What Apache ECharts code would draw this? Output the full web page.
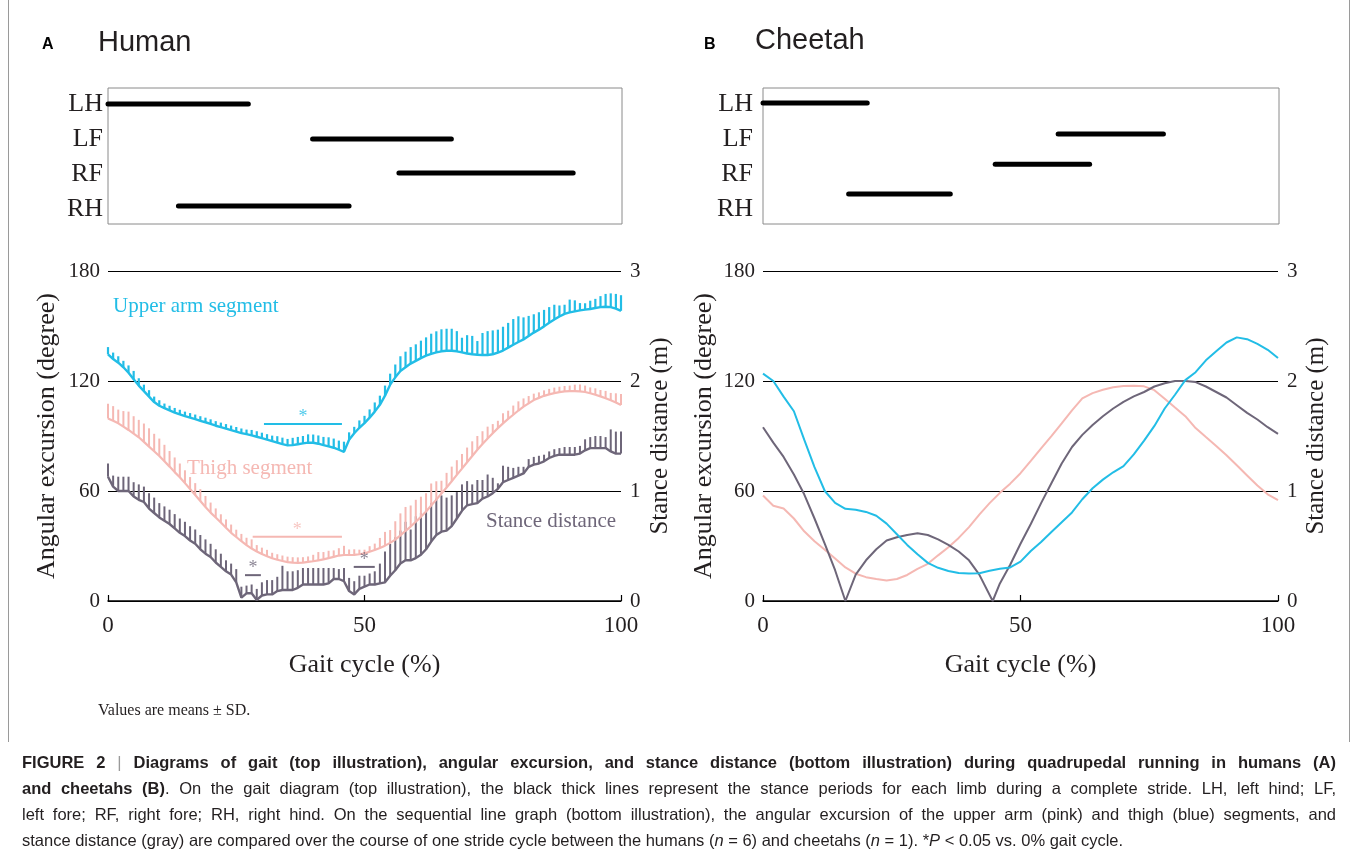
<!DOCTYPE html>
<html>
<head>
<meta charset="utf-8">
<script src="https://cdn.jsdelivr.net/npm/echarts@6/dist/echarts.min.js"></script>
<style>
  html, body { margin: 0; padding: 0; background: #fff; }
  #main { width: 1358px; height: 856px; }
</style>
</head>
<body>
<div id="main"></div>
<script>
// gait cycle sampling (%), human data every 1 %
var pct = [];
for (var i = 0; i <= 100; i++) pct.push(i);

var limbs = ['LH', 'LF', 'RF', 'RH'];

// stance periods (% of gait cycle)
var humanStart = [0, 39.8, 56.6, 13.7];
var humanEnd = [27.3, 66.8, 90.5, 46.9];
var humanRow = [0.47, 1.5, 2.5, 3.47];
var cheetahStart = [0, 57.2, 45, 16.6];
var cheetahEnd = [20.2, 77.6, 63.3, 36.3];
var cheetahRow = [0.44, 1.35, 2.24, 3.12];

// human: upper arm segment (degree), mean and SD
var humanArm = [
  134.5,132,130,127.5,124.5,121,117.5,114.5,111.5,108.5,
  106.5,105.2,104,102.8,101.8,100.8,100,99.2,98.3,97.5,
  96.6,95.6,94.8,94,93.2,92.4,91.6,91,90.3,89.6,
  88.8,88,87.2,86.4,85.6,84.9,85,85.5,86,86.4,
  86.3,85.8,85,84.3,83.6,82.5,81.4,88,91.5,94.5,
  97,100,103.3,107,112,118,122,125.5,127.5,129.5,
  131,132.5,133.8,134.8,135.6,136.2,136.5,136.5,136.2,135.6,
  135,134.6,134.3,134.2,134.2,134.6,135.5,136.6,138.2,139.8,
  141.3,142.7,144.5,146.4,148,149.8,151.8,153.6,155.2,156.6,
  157.4,158,158.5,158.9,159.3,159.8,160.3,160.5,160.3,159.5,158.3
];
var humanArmSD = [
  4,3.5,3.5,3.5,4,4.5,4,3.5,3.5,3,
  3,2.5,2.5,2.5,2.5,2.5,2.5,2.5,2.5,2.5,
  2.5,2.5,2.5,2.5,2.5,2.5,2.5,2.5,3,3,
  3,3,3,3.5,3.5,3.5,4,4,4,4.5,
  4.5,4.5,4.5,5,5,5,5.5,4,3.5,4,
  4,4.5,5,5,5.5,6,7,8,8.5,9,
  9,9.5,10,11,11.5,12,12,12,11,8,
  10,10,7.5,12,13,13,12.5,13,13.5,14,
  14,12,11,10,9.5,9,8.5,8,6,5,
  7,6,4,3.5,4.5,5,6,7,7.5,8,8.5
];

// human: thigh segment (degree)
var humanThigh = [
  99.6,98.3,96.9,95.1,93.3,91.3,89.3,86.8,84.2,81.7,
  79.1,76.2,73.3,70.3,67.5,64.3,61.1,57.8,54.5,51.3,
  48.2,45.5,42.8,40,37.2,34.9,32.6,30.5,28.6,27,
  25.6,24.4,23.3,22.5,21.8,21.2,20.9,20.8,20.9,21.3,
  21.7,22.2,22.7,23.4,24.1,24.8,25.1,25.1,25.2,25.5,
  26,26.9,27.8,28.9,30.2,31.7,33.5,35.8,38.3,40.6,
  43.2,45.9,48.8,52.1,55.3,58.6,61.9,65.3,68.8,72.2,
  75.7,79.1,82.5,85.6,88.6,91.5,94.3,96.9,99.3,101.6,
  103.9,106,107.8,109.6,110.8,111.9,112.7,113.4,113.9,114.3,
  114.5,114.5,114.3,114,113.3,112.5,111.6,110.6,109.5,108.3,106.9
];
var humanThighSD = [
  8,8,7.5,8.5,10,9.5,9.5,10,10,9.5,
  9.5,9,8.5,8,7.5,7,6.5,6.5,6.5,6,
  5.5,5,4.5,4.5,4.5,4,4,4,5,3.5,
  3.5,3.5,3,3,3,3,3,3,3,3,
  3.5,4.5,4,4,3.5,4,5,3,3,2.5,
  2,3,3.5,5.5,7.5,7,10,12,13,11.5,
  12,11,10,12,10,7,8,8,8,8,
  8,8,7.5,7,6.5,5,4,5.5,4.5,5,
  5,4.5,4,3.5,3,3,3,3,3,3,
  3,3.5,3.8,3.5,3.2,3.5,3.5,4,4,5,6
];

// human: stance distance (m)
var humanStance = [
  1.13,1.04,1,1,1,0.95,0.92,0.9,0.84,0.8,
  0.76,0.73,0.7,0.66,0.62,0.59,0.55,0.52,0.47,0.43,
  0.4,0.35,0.31,0.27,0.24,0.17,0.03,0.07,0.07,0.01,
  0.05,0.06,0.06,0.09,0.1,0.1,0.1,0.12,0.15,0.15,
  0.15,0.15,0.15,0.16,0.2,0.2,0.18,0.09,0.06,0.11,
  0.13,0.15,0.15,0.16,0.17,0.23,0.28,0.34,0.37,0.37,
  0.39,0.42,0.47,0.54,0.6,0.63,0.64,0.68,0.75,0.82,
  0.87,0.88,0.89,0.93,0.95,0.98,1.02,1.08,1.1,1.12,
  1.14,1.16,1.22,1.24,1.25,1.27,1.3,1.32,1.33,1.33,
  1.33,1.33,1.34,1.37,1.39,1.39,1.39,1.39,1.36,1.34,1.34
];
var humanStanceSD = [
  0.12,0.1,0.13,0.13,0.13,0.13,0.14,0.14,0.14,0.14,
  0.13,0.13,0.13,0.13,0.13,0.13,0.13,0.13,0.13,0.13,
  0.12,0.12,0.12,0.1,0.1,0.12,0.1,0.07,0.08,0.1,
  0.12,0.13,0.13,0.13,0.22,0.17,0.17,0.16,0.15,0.15,
  0.15,0.15,0.15,0.14,0.1,0.09,0.12,0.12,0.12,0.12,
  0.1,0.1,0.12,0.18,0.28,0.29,0.3,0.3,0.35,0.28,
  0.38,0.38,0.35,0.35,0.33,0.33,0.3,0.28,0.24,0.24,
  0.22,0.18,0.21,0.17,0.2,0.14,0.05,0.15,0.12,0.09,
  0.08,0.06,0.07,0.07,0.07,0.06,0.06,0.06,0.06,0.07,
  0.07,0.07,0.07,0.1,0.1,0.11,0.11,0.1,0.2,0.2,0.2
];

// significance bars: [from %, to %, level]
var sigArm = [30.4, 45.6, 96.5];
var sigThigh = [28.2, 45.6, 35];
var sigStance1 = [26.7, 29.8, 0.235];
var sigStance2 = [47.9, 52, 0.31];

// cheetah (n = 1), every 2 %
var cheetahPct = [];
for (var j = 0; j <= 100; j += 2) cheetahPct.push(j);
var cheetahArm = [
  124,120,111.5,103.5,88,73,60,53.5,50.3,49.8,
  48.6,46.5,42.2,36.4,30.6,25.5,20.8,18.1,16.4,15.3,
  15,15.1,16.5,17.6,18.3,21.5,27.3,32.2,37.6,43,
  48.3,55.5,61.5,66.2,70.2,73.6,80,87.5,95.5,105,
  112.5,120.5,124.8,131.3,136.2,141,143.8,142.8,140.2,137,132.5
];
var cheetahThigh = [
  57.5,52,50.5,45,38,32.6,28,23.2,18.3,14.9,
  13,12,11.2,12,14.2,17.5,20.3,24.9,29.3,34.4,
  40.3,47.1,53.4,59,64,69.7,76.4,83.2,89.9,96.9,
  104,110.5,113.4,115.2,116.6,117.3,117.4,117.1,115,110.3,
  105.5,100.8,94.3,89.4,84.6,79.5,74,68.5,63,58.2,55
];
var cheetahStancePct = [
  0,2,4,6,8,10,12,14,16,18,20,22,24,26,28,30,32,34,36,38,40,42,44.6,
  46,48,50,52,54,56,58,60,62,64,66,68,70,72,74,76,78,80,82,84,86,88,90,92,94,96,98,100
];
var cheetahStance = [
  1.58,1.44,1.31,1.15,0.97,0.75,0.52,0.28,0,0.24,0.37,0.47,0.55,0.58,0.6,0.615,0.6,0.56,0.51,0.45,0.37,0.24,0,
  0.16,0.33,0.52,0.7,0.89,1.07,1.25,1.4,1.51,1.6,1.68,1.75,1.81,1.86,1.9,1.95,1.98,2.0,2.0,1.99,1.95,1.9,1.85,1.78,1.71,1.65,1.58,1.52
];

// caption lines, as [style, text] pieces; the first three are justified
var captionLines = [
  [['b', 'FIGURE 2 '], ['bar', '| '], ['b', 'Diagrams of gait (top illustration), angular excursion, and stance distance (bottom illustration) during quadrupedal running in humans (A)']],
  [['b', 'and cheetahs (B)'], ['r', '. On the gait diagram (top illustration), the black thick lines represent the stance periods for each limb during a complete stride. LH, left hind; LF,']],
  [['r', 'left fore; RF, right fore; RH, right hind. On the sequential line graph (bottom illustration), the angular excursion of the upper arm (pink) and thigh (blue) segments, and']],
  [['r', 'stance distance (gray) are compared over the course of one stride cycle between the humans ('], ['i', 'n'], ['r', ' = 6) and cheetahs ('], ['i', 'n'], ['r', ' = 1). *'], ['i', 'P'], ['r', ' < 0.05 vs. 0% gait cycle.']]
];

var cyan = '#22bde6';
var pink = '#f5b8b3';
var gray = '#6e6679';
var ink = '#231f20';
var serif = "'Liberation Serif', 'Times New Roman', serif";
var sans = "'Liberation Sans', Arial, sans-serif";

var chart = echarts.init(document.getElementById('main'));

function pairs(xs, ys) {
  return xs.map(function (x, k) { return [x, ys[k]]; });
}

function meanLine(xs, ys, xi, yi, color, w) {
  return {
    type: 'line', xAxisIndex: xi, yAxisIndex: yi,
    data: pairs(xs, ys), symbol: 'none',
    lineStyle: { color: color, width: w }, z: 3
  };
}

// one-sided SD bars drawn upward from the mean
function sdBars(means, sds, xi, yi, color, w) {
  return {
    type: 'custom', xAxisIndex: xi, yAxisIndex: yi,
    data: pct.map(function (p, k) { return [p, means[k], means[k] + sds[k]]; }),
    encode: { x: 0, y: [1, 2] },
    renderItem: function (params, api) {
      var a = api.coord([api.value(0), api.value(1)]);
      var b = api.coord([api.value(0), api.value(2)]);
      return {
        type: 'line',
        shape: { x1: a[0], y1: a[1], x2: b[0], y2: b[1] },
        style: { stroke: color, lineWidth: w }
      };
    },
    z: 2
  };
}

function sigBar(s, xi, yi, color) {
  return [{
    type: 'line', xAxisIndex: xi, yAxisIndex: yi,
    data: [[s[0], s[2]], [s[1], s[2]]], symbol: 'none',
    lineStyle: { color: color, width: 2 }, z: 4
  }, {
    type: 'scatter', xAxisIndex: xi, yAxisIndex: yi,
    data: [[(s[0] + s[1]) / 2, s[2]]], symbolSize: 0,
    label: { show: true, formatter: '*', position: 'top', distance: -2,
      color: color, fontSize: 18, fontFamily: serif },
    z: 4
  }];
}

function gaitBars(starts, ends, rows, xi, yi) {
  return limbs.map(function (l, k) {
    return {
      type: 'line', xAxisIndex: xi, yAxisIndex: yi,
      data: [[starts[k], rows[k]], [ends[k], rows[k]]], symbol: 'none',
      lineStyle: { color: '#000', width: 5, cap: 'round' }
    };
  });
}

function hiddenX(gi) {
  return { gridIndex: gi, type: 'value', min: 0, max: 100, show: false };
}
function gaitYCat(gi, margin) {
  return {
    gridIndex: gi, type: 'category', data: limbs, inverse: true,
    axisLine: { show: false }, axisTick: { show: false },
    axisLabel: { margin: margin, fontFamily: serif, fontSize: 26, color: ink }
  };
}
function gaitYVal(gi) {
  return { gridIndex: gi, type: 'value', min: 0, max: 4, inverse: true, show: false };
}

function mainX(gi) {
  return {
    gridIndex: gi, type: 'value', min: 0, max: 100, interval: 50,
    axisLine: { lineStyle: { color: '#000', width: 1.5 } },
    axisTick: { inside: true, length: 6, lineStyle: { color: '#000', width: 1.2 } },
    axisLabel: { margin: 13, fontFamily: serif, fontSize: 23, color: ink },
    splitLine: { show: false },
    name: 'Gait cycle (%)', nameLocation: 'middle', nameGap: 51,
    nameTextStyle: { fontFamily: serif, fontSize: 26, color: ink }
  };
}
function mainYLeft(gi, gap) {
  return {
    gridIndex: gi, type: 'value', min: 0, max: 180, interval: 60,
    axisLine: { show: false }, axisTick: { show: false },
    splitLine: { lineStyle: { color: '#000', width: 1.2 } },
    axisLabel: { margin: 8, fontFamily: serif, fontSize: 21, color: ink },
    name: 'Angular excursion (degree)', nameLocation: 'middle', nameRotate: 90, nameGap: gap,
    nameTextStyle: { fontFamily: serif, fontSize: 26, color: ink }
  };
}
function mainYRight(gi, gap) {
  return {
    gridIndex: gi, type: 'value', position: 'right', min: 0, max: 3, interval: 1,
    axisLine: { show: false }, axisTick: { show: false }, splitLine: { show: false },
    axisLabel: { margin: 9, fontFamily: serif, fontSize: 21, color: ink },
    name: 'Stance distance (m)', nameLocation: 'middle', nameRotate: 90, nameGap: gap,
    nameTextStyle: { fontFamily: serif, fontSize: 25, color: ink }
  };
}

// justified caption: each word is its own text element
var capFont = {
  b: 'bold 16.5px ' + sans,
  r: '16.5px ' + sans,
  bar: '16.5px ' + sans,
  i: 'italic 16.5px ' + sans
};
var capLeft = 22, capWidth = 1314, capTop = 763, capStep = 26;
var measureCtx = document.createElement('canvas').getContext('2d');
function textWidth(font, s) {
  measureCtx.font = font;
  return measureCtx.measureText(s).width;
}
function captionGraphics() {
  var out = [];
  captionLines.forEach(function (line, li) {
    var words = [[]];
    line.forEach(function (seg) {
      var parts = seg[1].split(' ');
      parts.forEach(function (p, pi) {
        if (pi > 0) words.push([]);
        if (p) words[words.length - 1].push([seg[0], p]);
      });
    });
    words = words.filter(function (w) { return w.length; });
    var widths = words.map(function (w) {
      return w.reduce(function (s, pc) { return s + textWidth(capFont[pc[0]], pc[1]); }, 0);
    });
    var total = widths.reduce(function (a, b) { return a + b; }, 0);
    var gap = li < captionLines.length - 1
      ? (capWidth - total) / (words.length - 1)
      : textWidth(capFont.r, ' ');
    var x = capLeft;
    words.forEach(function (w, wi) {
      var px = x;
      w.forEach(function (pc) {
        out.push({
          type: 'text', x: px, y: capTop + li * capStep,
          style: { text: pc[1], font: capFont[pc[0]], fill: pc[0] === 'bar' ? '#9a9a9a' : ink, textVerticalAlign: 'middle' }
        });
        px += textWidth(capFont[pc[0]], pc[1]);
      });
      x += widths[wi] + gap;
    });
  });
  return out;
}

var series = [].concat(
  gaitBars(humanStart, humanEnd, humanRow, 0, 1),
  gaitBars(cheetahStart, cheetahEnd, cheetahRow, 1, 3),
  [
    sdBars(humanStance, humanStanceSD, 2, 5, gray, 2),
    meanLine(pct, humanStance, 2, 5, gray, 2.4),
    sdBars(humanThigh, humanThighSD, 2, 4, pink, 2),
    meanLine(pct, humanThigh, 2, 4, pink, 2.2),
    sdBars(humanArm, humanArmSD, 2, 4, cyan, 2.2),
    meanLine(pct, humanArm, 2, 4, cyan, 2.4)
  ],
  sigBar(sigArm, 2, 4, cyan),
  sigBar(sigThigh, 2, 4, pink),
  sigBar(sigStance1, 2, 5, gray),
  sigBar(sigStance2, 2, 5, gray),
  [
    meanLine(cheetahPct, cheetahThigh, 3, 6, pink, 2),
    meanLine(cheetahStancePct, cheetahStance, 3, 7, gray, 2),
    meanLine(cheetahPct, cheetahArm, 3, 6, cyan, 2)
  ]
);

var option = {
  animation: false,
  backgroundColor: '#fff',
  grid: [
    // gait boxes
    { left: 108, top: 88, width: 514, height: 136, show: true, borderColor: '#8a8a8a', borderWidth: 1 },
    { left: 763, top: 88, width: 516, height: 136, show: true, borderColor: '#8a8a8a', borderWidth: 1 },
    // angle / distance plots
    { left: 108, top: 271, width: 513, height: 330 },
    { left: 763, top: 271, width: 515, height: 330 },
    // gait limb labels (slightly taller rows than the box)
    { left: 108, top: 87, width: 514, height: 140 },
    { left: 763, top: 87, width: 516, height: 140 }
  ],
  xAxis: [hiddenX(0), hiddenX(1), mainX(2), mainX(3), hiddenX(4), hiddenX(5)],
  yAxis: [
    gaitYVal(0), gaitYVal(1),
    mainYLeft(2, 48), mainYRight(2, 27),
    mainYLeft(3, 46), mainYRight(3, 26),
    gaitYCat(4, 5), gaitYCat(5, 10)
  ],
  series: [].concat(
    gaitBars(humanStart, humanEnd, humanRow, 0, 0),
    gaitBars(cheetahStart, cheetahEnd, cheetahRow, 1, 1),
    series.slice(8).map(function (s) {
      // main plots: shift y indices past the two gait value axes
      var c = Object.assign({}, s);
      c.yAxisIndex = s.yAxisIndex - 2;
      return c;
    })
  ),
  graphic: [
    { type: 'line', shape: { x1: 8.5, y1: 0, x2: 8.5, y2: 742 }, style: { stroke: '#9a9a9a', lineWidth: 1 } },
    { type: 'line', shape: { x1: 1349.5, y1: 0, x2: 1349.5, y2: 742 }, style: { stroke: '#9a9a9a', lineWidth: 1 } },
    { type: 'text', x: 42, y: 45, style: { text: 'A', font: 'bold 16px ' + sans, fill: '#000', textVerticalAlign: 'middle' } },
    { type: 'text', x: 98, y: 43, style: { text: 'Human', font: '29px ' + sans, fill: ink, textVerticalAlign: 'middle' } },
    { type: 'text', x: 704, y: 45, style: { text: 'B', font: 'bold 16px ' + sans, fill: '#000', textVerticalAlign: 'middle' } },
    { type: 'text', x: 755, y: 41, style: { text: 'Cheetah', font: '29px ' + sans, fill: ink, textVerticalAlign: 'middle' } },
    { type: 'text', x: 113, y: 306, style: { text: 'Upper arm segment', font: '21px ' + serif, fill: cyan, textVerticalAlign: 'middle' } },
    { type: 'text', x: 187, y: 468, style: { text: 'Thigh segment', font: '21px ' + serif, fill: pink, textVerticalAlign: 'middle' } },
    { type: 'text', x: 486, y: 521, style: { text: 'Stance distance', font: '21px ' + serif, fill: gray, textVerticalAlign: 'middle' } },
    { type: 'text', x: 98, y: 711, style: { text: 'Values are means \u00b1 SD.', font: '16px ' + serif, fill: ink, textVerticalAlign: 'middle' } }
  ].concat(captionGraphics())
};

chart.setOption(option);
</script>
</body>
</html>
